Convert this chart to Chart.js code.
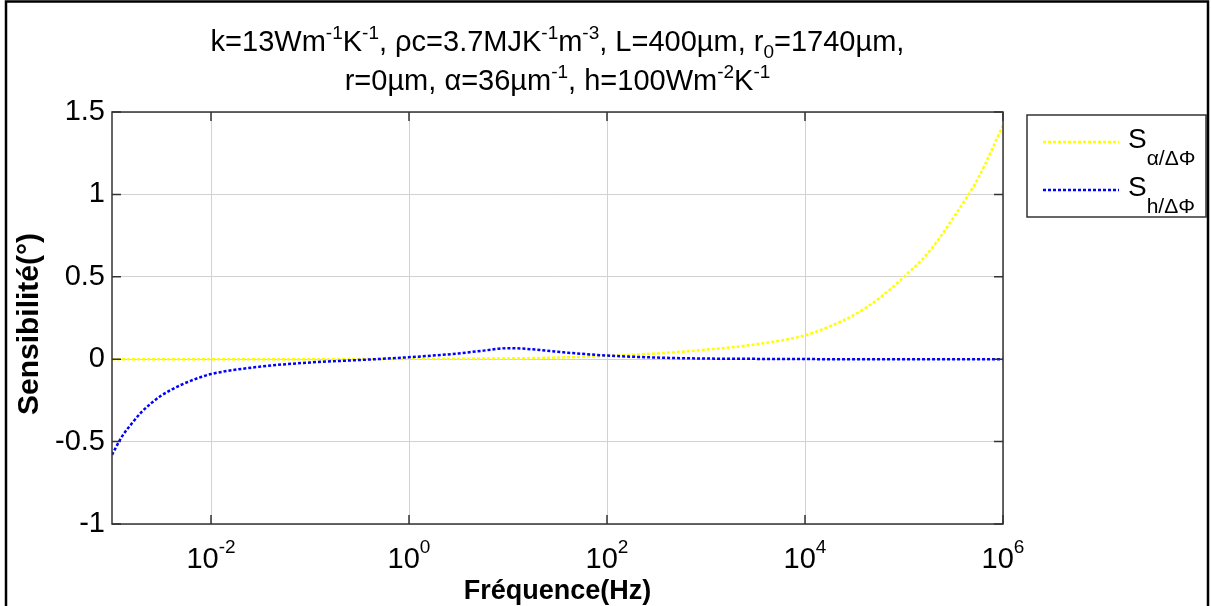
<!DOCTYPE html>
<html>
<head>
<meta charset="utf-8">
<script src="https://cdn.jsdelivr.net/npm/chart.js@4.4.0/dist/chart.umd.min.js"></script>
<style>
  html, body { margin: 0; padding: 0; background: #fff; }
  #wrap { width: 1211px; height: 606px; position: relative; }
</style>
</head>
<body>
<div id="wrap"><canvas id="sensChart"></canvas></div>
<script>
// frequencies as powers of ten (Hz)
const logFreq = [-3, -2.9, -2.8, -2.7, -2.6, -2.5, -2.4, -2.3, -2.2, -2.1, -2, -1.5, -1, -0.5, 0, 0.5, 0.75, 1, 1.25, 1.5, 2, 2.5, 3, 3.5, 4, 4.25, 4.5, 4.75, 5, 5.25, 5.5, 5.75, 6];
// S alpha / delta phi (yellow)
const sAlpha = [0, 0, 0, 0, 0, 0, 0, 0, 0, 0, 0, 0, 0, 0.001, 0.002, 0.003, 0.004, 0.005, 0.007, 0.01, 0.02, 0.035, 0.058, 0.09, 0.145, 0.2, 0.27, 0.37, 0.5, 0.65, 0.86, 1.1, 1.42];
// S h / delta phi (blue)
const sH = [-0.58, -0.47, -0.39, -0.32, -0.265, -0.22, -0.185, -0.155, -0.13, -0.108, -0.09, -0.045, -0.02, -0.005, 0.012, 0.035, 0.052, 0.067, 0.06, 0.045, 0.022, 0.01, 0.004, 0.002, 0.001, 0, 0, 0, 0, 0, 0, 0, 0];
const yTicks = [-1, -0.5, 0, 0.5, 1, 1.5];
const xTickExps = [-2, 0, 2, 4, 6];

const FONT = '"Liberation Sans", Arial, sans-serif';

// draws a line of text made of pieces, some raised (sup) or lowered (sub)
function drawRich(ctx, parts, x, y, align) {
    let total = 0;
    parts.forEach(p => {
        ctx.font = (p.bold ? 'bold ' : '') + p.size + 'px ' + FONT;
        p.w = ctx.measureText(p.t).width;
        total += p.w;
    });
    let cx = align === 'left' ? x : x - total / 2;
    ctx.textAlign = 'left';
    ctx.textBaseline = 'alphabetic';
    parts.forEach(p => {
        ctx.font = (p.bold ? 'bold ' : '') + p.size + 'px ' + FONT;
        ctx.fillText(p.t, cx, y + (p.dy || 0));
        cx += p.w;
    });
}

const T = 29, SUP = 19;
const titleLine1 = [
    {t: 'k=13Wm', size: T}, {t: '-1', size: SUP, dy: -12}, {t: 'K', size: T}, {t: '-1', size: SUP, dy: -12},
    {t: ', ρc=3.7MJK', size: T}, {t: '-1', size: SUP, dy: -12}, {t: 'm', size: T}, {t: '-3', size: SUP, dy: -12},
    {t: ', L=400µm, r', size: T}, {t: '0', size: SUP, dy: 7}, {t: '=1740µm,', size: T}
];
const titleLine2 = [
    {t: 'r=0µm, α=36µm', size: T}, {t: '-1', size: SUP, dy: -12}, {t: ', h=100Wm', size: T},
    {t: '-2', size: SUP, dy: -12}, {t: 'K', size: T}, {t: '-1', size: SUP, dy: -12}
];

const decorPlugin = {
    id: 'decor',
    afterDatasetsDraw(chart) {
        const ctx = chart.ctx;
        const a = chart.chartArea;
        const xs = chart.scales.x, ys = chart.scales.y;
        ctx.save();

        // axes box with inward ticks
        ctx.strokeStyle = '#333';
        ctx.lineWidth = 1.5;
        ctx.strokeRect(a.left, a.top, a.right - a.left, a.bottom - a.top);
        ctx.beginPath();
        yTicks.forEach(v => {
            const py = ys.getPixelForValue(v);
            ctx.moveTo(a.left, py); ctx.lineTo(a.left + 9, py);
            ctx.moveTo(a.right, py); ctx.lineTo(a.right - 9, py);
        });
        xTickExps.forEach(e => {
            const px = xs.getPixelForValue(Math.pow(10, e));
            ctx.moveTo(px, a.bottom); ctx.lineTo(px, a.bottom - 9);
            ctx.moveTo(px, a.top); ctx.lineTo(px, a.top + 9);
        });
        ctx.stroke();

        // x tick labels 10^n
        ctx.fillStyle = '#000';
        xTickExps.forEach(e => {
            const px = xs.getPixelForValue(Math.pow(10, e));
            drawRich(ctx, [{t: '10', size: 29}, {t: String(e), size: 19, dy: -15}], px, 568);
        });

        // axis titles
        ctx.textAlign = 'center';
        ctx.textBaseline = 'middle';
        ctx.font = 'bold 27px ' + FONT;
        ctx.fillText('Fréquence(Hz)', (a.left + a.right) / 2, 592);
        ctx.save();
        ctx.translate(30, 324);
        ctx.rotate(-Math.PI / 2);
        ctx.font = 'bold 30px ' + FONT;
        ctx.fillText('Sensibilité(°)', 0, 0);
        ctx.restore();

        // title
        drawRich(ctx, titleLine1, (a.left + a.right) / 2, 51);
        drawRich(ctx, titleLine2, (a.left + a.right) / 2, 90);

        // legend
        ctx.fillStyle = '#fff';
        ctx.fillRect(1027, 115, 179, 102);
        ctx.strokeStyle = '#333';
        ctx.lineWidth = 1.5;
        ctx.strokeRect(1027, 115, 179, 102);
        const items = [
            {color: '#ffff00', y: 142, sub: 'α/ΔΦ'},
            {color: '#0000ff', y: 190, sub: 'h/ΔΦ'}
        ];
        items.forEach(it => {
            ctx.strokeStyle = it.color;
            ctx.lineWidth = 2.5;
            ctx.setLineDash([3, 2]);
            ctx.beginPath();
            ctx.moveTo(1043, it.y); ctx.lineTo(1119, it.y);
            ctx.stroke();
            ctx.setLineDash([]);
            ctx.fillStyle = '#000';
            drawRich(ctx, [{t: 'S', size: 28}, {t: it.sub, size: 21, dy: 17}], 1128, it.y + 6, 'left');
        });

        // figure frame
        ctx.strokeStyle = '#000';
        ctx.lineWidth = 2.5;
        ctx.beginPath();
        ctx.moveTo(6, 606); ctx.lineTo(6, 1.5); ctx.lineTo(1208, 1.5); ctx.lineTo(1208, 606);
        ctx.stroke();
        ctx.restore();
    }
};

const toPoints = vals => logFreq.map((e, i) => ({x: Math.pow(10, e), y: vals[i]}));

new Chart(document.getElementById('sensChart'), {
    type: 'line',
    data: {
        datasets: [
            {
                label: 'S α/ΔΦ',
                data: toPoints(sAlpha),
                borderColor: '#ffff00',
                borderWidth: 2.5,
                borderDash: [3, 2],
                pointRadius: 0,
                cubicInterpolationMode: 'monotone',
                order: 1
            },
            {
                label: 'S h/ΔΦ',
                data: toPoints(sH),
                borderColor: '#0000ff',
                borderWidth: 2.5,
                borderDash: [3, 2],
                pointRadius: 0,
                cubicInterpolationMode: 'monotone',
                order: 0
            }
        ]
    },
    options: {
        responsive: true,
        maintainAspectRatio: false,
        animation: false,
        layout: { padding: { top: 112, right: 208, bottom: 0, left: 0 } },
        plugins: {
            legend: { display: false },
            title: { display: false },
            tooltip: { enabled: false }
        },
        scales: {
            x: {
                type: 'logarithmic',
                min: 1e-3,
                max: 1e6,
                afterBuildTicks: scale => {
                    scale.ticks = xTickExps.map(e => ({ value: Math.pow(10, e) }));
                },
                afterFit: scale => { scale.height = 82; },
                ticks: { display: false },
                border: { display: false },
                grid: { color: '#d2d2d2', borderDash: [1, 2], lineWidth: 1, drawTicks: false }
            },
            y: {
                min: -1,
                max: 1.5,
                afterBuildTicks: scale => {
                    scale.ticks = yTicks.map(v => ({ value: v }));
                },
                afterFit: scale => { scale.width = 112; },
                ticks: {
                    padding: 7,
                    color: '#000',
                    font: { family: FONT, size: 29 },
                    callback: v => String(v)
                },
                border: { display: false },
                grid: { color: '#d2d2d2', borderDash: [1, 2], lineWidth: 1, drawTicks: false }
            }
        }
    },
    plugins: [decorPlugin]
});
</script>
</body>
</html>
